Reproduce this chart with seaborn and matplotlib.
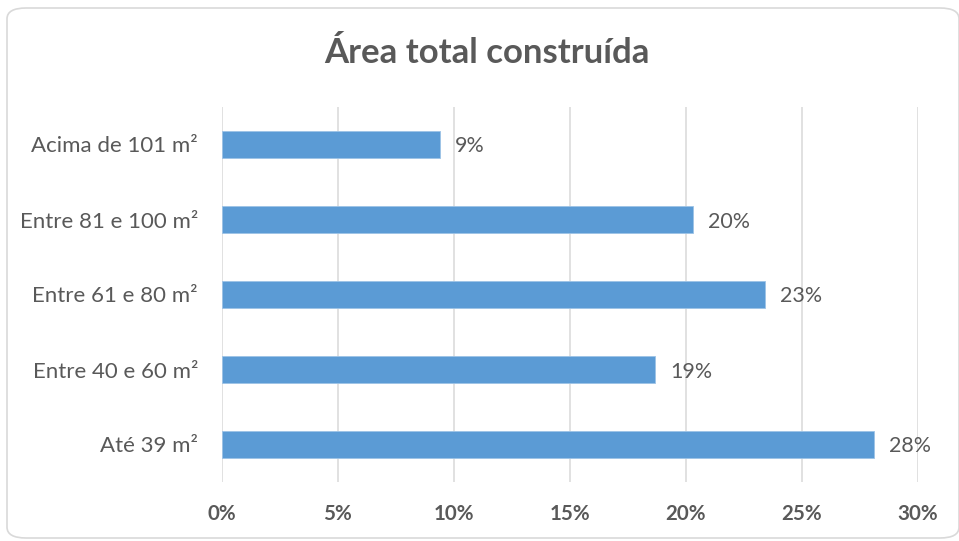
import matplotlib
matplotlib.use("Agg")
import matplotlib.pyplot as plt
from matplotlib.patches import FancyBboxPatch
from matplotlib.ticker import FuncFormatter, MultipleLocator
import pandas as pd
import seaborn as sns

# Faixas de área e respectiva participação (%)
categories = ["Acima de 101 m²", "Entre 81 e 100 m²", "Entre 61 e 80 m²",
              "Entre 40 e 60 m²", "Até 39 m²"]
shares = [9.4, 20.3, 23.4, 18.7, 28.1]
x_ticks = [0, 5, 10, 15, 20, 25, 30]

TEXT = "#595959"
BAR = "#5B9BD5"
GRID = "#D9D9D9"

sns.set_theme(style="white")
plt.rcParams["font.family"] = ["Lato", "DejaVu Sans"]

df = pd.DataFrame({"faixa": categories, "pct": shares})

fig = plt.figure(figsize=(9.59, 5.41), dpi=100)
fig.patch.set_facecolor("white")

# moldura arredondada do gráfico
frame = FancyBboxPatch((7 / 959, 3 / 541), 952 / 959, 530 / 541,
                       boxstyle="round,pad=0,rounding_size=0.02",
                       transform=fig.transFigure, facecolor="white",
                       edgecolor="#D9D9D9", linewidth=1.2, zorder=-10)
fig.patches.append(frame)

ax = fig.add_axes([221.5 / 959, 1 - 482 / 541, (917.7 - 221.5) / 959, 375 / 541])
ax.set_facecolor("none")
ax.set_zorder(2)

sns.barplot(data=df, x="pct", y="faixa", order=categories, orient="h",
            color=BAR, width=0.35, saturation=1, ax=ax, zorder=3,
            edgecolor="#9DC3E6", linewidth=0.6)

ax.set_xlim(x_ticks[0], x_ticks[-1])
ax.set_ylim(4.5, -0.5)
ax.xaxis.set_major_locator(MultipleLocator(5))
ax.xaxis.set_major_formatter(FuncFormatter(lambda v, p: f"{v:.0f}%"))
ax.grid(axis="x", color=GRID, linewidth=1.1, zorder=0)
ax.grid(axis="y", visible=False)
for s in ax.spines.values():
    s.set_visible(False)

ax.tick_params(axis="x", length=0, pad=16, labelsize=14.8, labelcolor=TEXT)
ax.tick_params(axis="y", length=0, pad=17, labelsize=16, labelcolor=TEXT)
for lbl in ax.get_xticklabels():
    lbl.set_fontweight("bold")

ax.set_xlabel("")
ax.set_ylabel("")

for i, v in enumerate(shares):
    ax.annotate(f"{v:.0f}%", xy=(v, i), xytext=(11, 0),
                textcoords="offset points", va="center_baseline", ha="left",
                fontsize=15.4, color=TEXT)

fig.text(487 / 959, 1 - 53 / 541, "Área total construída", ha="center",
         va="center", fontsize=25, fontweight="bold", color=TEXT)

fig.savefig("out.png", dpi=100, facecolor="white")
